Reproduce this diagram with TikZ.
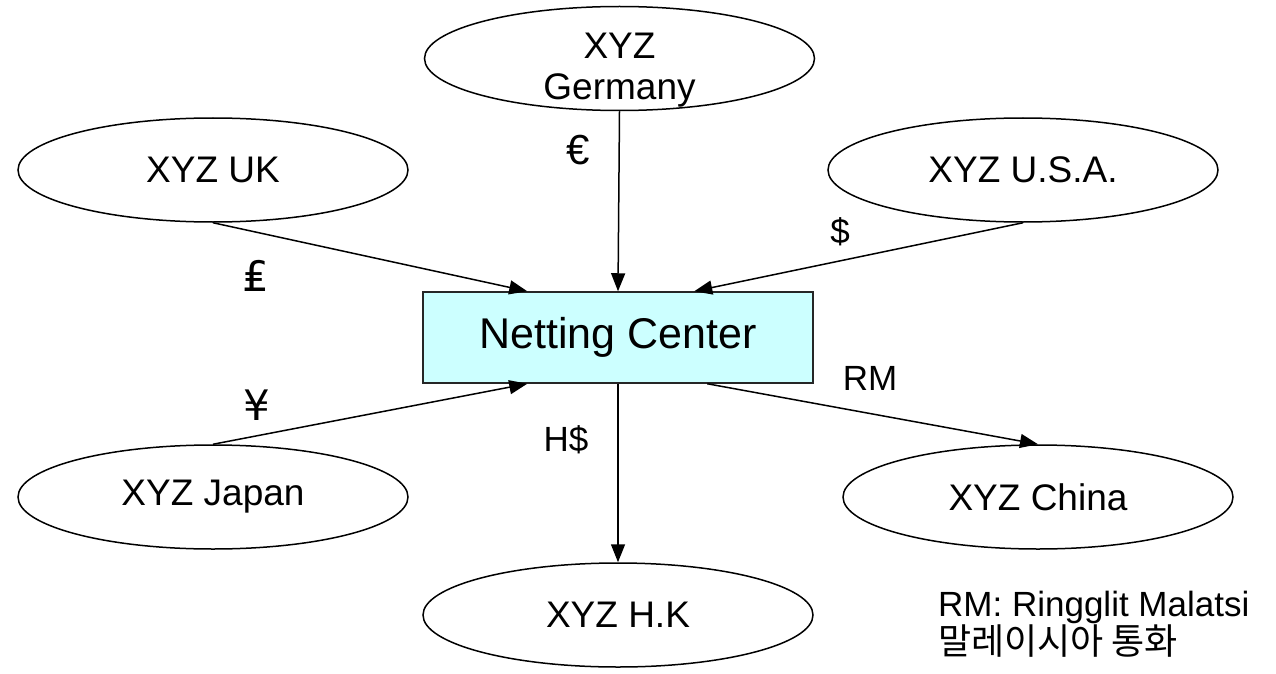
\documentclass[tikz,border=0pt]{standalone}
\usepackage{fontspec}
\setmainfont{Liberation Sans}
\newfontfamily\symfont{DejaVu Sans}
\newfontfamily\krfont{Noto Sans CJK KR}
\usetikzlibrary{shapes.geometric,arrows.meta,calc}

\definecolor{centerfill}{RGB}{204,255,255}

\tikzset{
  office/.style={ellipse, draw=black, line width=1.5pt, fill=white,
    minimum width=390pt, minimum height=104pt, inner sep=0pt,
    font=\fontsize{37pt}{42pt}\selectfont, align=center},
  center box/.style={rectangle, draw=black!85, line width=1.5pt, fill=centerfill,
    minimum width=390pt, minimum height=91pt, inner sep=0pt,
    font=\fontsize{43pt}{48pt}\selectfont},
  flow/.style={line width=1.5pt, -{Triangle[length=18pt,width=14pt]}},
  currency/.style={font=\fontsize{35pt}{40pt}\selectfont, inner sep=0pt},
  money sign/.style={font=\fontsize{42pt}{46pt}\selectfont, inner sep=0pt},
}

\begin{document}
\begin{tikzpicture}[x=1pt,y=-1pt]
  \useasboundingbox (0,0) rectangle (1276,674);

  % subsidiaries
  \node[office] (de) at (619.5,58.5) {};
  \node[font=\fontsize{37pt}{41pt}\selectfont, align=center, inner sep=0pt]
    (detext) at (619.5,70) {XYZ\\Germany};
  \node[office] (uk) at (213,170) {XYZ UK};
  \node[office] (us) at (1023,170) {XYZ U.S.A.};
  \node[office] (jp) at (213,497) {XYZ Japan};
  \node[office] (cn) at (1038,497) {XYZ China};
  \node[office] (hk) at (618,615) {XYZ H.K};

  % netting center
  \node[center box] (nc) at (618,337.5) {Netting Center};

  % attachment points on the netting center
  \coordinate (ncUK) at ($(nc.north west)+(105,0)$);
  \coordinate (ncUS) at ($(nc.north west)+(272,0)$);
  \coordinate (ncJP) at ($(nc.south west)+(105,0)$);
  \coordinate (ncCN) at ($(nc.south west)+(285,0)$);

  % payment flows
  \draw[flow] (de.south) -- (nc.north);
  \draw[flow] (uk.south) -- (ncUK);
  \draw[flow] (us.south) -- (ncUS);
  \draw[flow] (jp.north) -- (ncJP);
  \draw[flow] (ncCN) -- (cn.north);
  \draw[flow] (nc.south) -- (hk.north);

  % currency labels
  \node[money sign] (eur) at (578,150) {€};
  \node[money sign] (gbp) at (256,276) {\symfont ₤};
  \node[currency] (usd) at (840,232) {\$};
  \node[money sign] (jpy) at (257,405) {\symfont ¥};
  \node[currency] (hkd) at (566,440) {H\$};
  \node[currency] (myr) at (870,378) {RM};

  % legend
  \node[anchor=north west, align=left, inner sep=0pt,
        font=\fontsize{35pt}{36pt}\selectfont] (note) at (938,591)
    {RM: Ringglit Malatsi\\{\krfont\fontsize{36pt}{36pt}\selectfont 말레이시아 통화}};
\end{tikzpicture}
\end{document}
